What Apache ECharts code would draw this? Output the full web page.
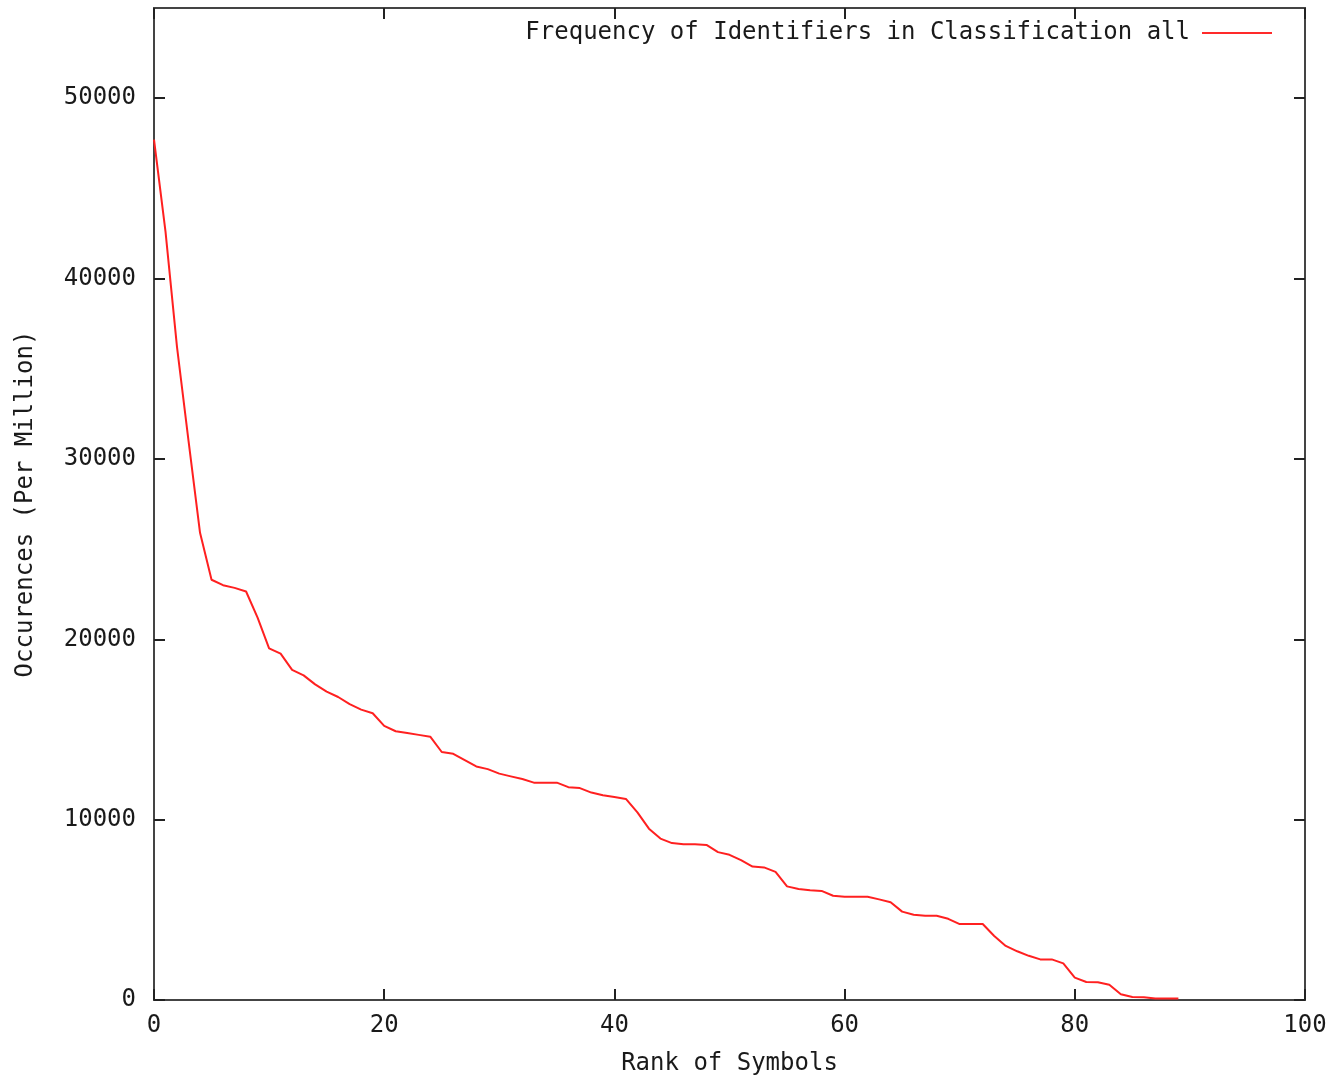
<!DOCTYPE html>
<html>
<head>
<meta charset="utf-8">
<script src="https://cdn.jsdelivr.net/npm/echarts@6/dist/echarts.min.js"></script>
<style>
html,body{margin:0;padding:0;background:#fff;}
#chart{width:1341px;height:1075px;}
</style>
</head>
<body>
<div id="chart"></div>
<script>
const seriesName = 'Frequency of Identifiers in Classification all';
const xTitle = 'Rank of Symbols';
const yTitle = 'Occurences (Per Million)';
const xTicks = [0, 20, 40, 60, 80, 100];
const yTicks = [0, 10000, 20000, 30000, 40000, 50000];
// occurrences per million, one value per rank 0,1,2,...
const occurrences = [
  47700, 42600, 36200, 31000, 25900, 23300, 23000, 22850, 22650, 21200,
  19500, 19200, 18300, 18000, 17500, 17100, 16800, 16400, 16100, 15900,
  15200, 14900, 14800, 14700, 14600, 13750, 13650, 13300, 12950, 12800,
  12550, 12400, 12250, 12050, 12050, 12050, 11800, 11750, 11500, 11350,
  11250, 11150, 10400, 9500, 8950, 8700, 8640, 8640, 8600, 8200,
  8050, 7750, 7400, 7350, 7100, 6300, 6150, 6080, 6050, 5780,
  5720, 5720, 5720, 5580, 5420, 4900, 4730, 4670, 4670, 4500,
  4210, 4210, 4210, 3550, 3000, 2700, 2450, 2250, 2250, 2030,
  1240, 1000, 980, 850, 320, 170, 150, 80, 80, 80
];

const pts = occurrences.map((v, i) => [i, v]);
const font = 'DejaVu Sans Mono';
const axisColor = '#444';
const txt = '#1a1a1a';
const tickStyle = (vals) => ({ show: true, inside: true, length: 11, interval: 0, customValues: vals,
  lineStyle: { color: '#222', width: 2 } });
const lineStyleAxis = () => ({ show: true, onZero: false, lineStyle: { color: axisColor, width: 2 } });
const tickOnlyX = (pos) => ({
  type: 'value', position: pos, min: 0, max: 100, interval: 20,
  axisLine: lineStyleAxis(), axisTick: tickStyle(xTicks),
  axisLabel: { show: false }, splitLine: { show: false }
});
const tickOnlyY = (pos) => ({
  type: 'value', position: pos, min: 0, max: 55000, interval: 10000,
  axisLine: lineStyleAxis(), axisTick: tickStyle(yTicks),
  axisLabel: { show: false }, splitLine: { show: false }
});

const chart = echarts.init(document.getElementById('chart'));
chart.setOption({
  animation: false,
  backgroundColor: '#ffffff',
  grid: { left: 154, right: 36, top: 8, bottom: 75, containLabel: false, outerBoundsMode: 'none',
          show: true, borderColor: axisColor, borderWidth: 2 },
  legend: {
    data: [{ name: seriesName, icon: 'rect' }], right: 64, top: 16, align: 'right',
    itemWidth: 70, itemHeight: 2, itemGap: 10,
    itemStyle: { color: '#ff2a2a' },
    textStyle: { fontFamily: font, fontSize: 24, color: txt, padding: [0, 7, 0, 0] }
  },
  xAxis: [{
    type: 'value', position: 'bottom', min: 0, max: 100, interval: 20,
    name: xTitle, nameLocation: 'middle', nameGap: 52,
    nameTextStyle: { fontFamily: font, fontSize: 24, color: txt },
    axisLine: lineStyleAxis(), axisTick: { show: false },
    axisLabel: { fontFamily: font, fontSize: 24, color: txt, margin: 14, customValues: xTicks,
      formatter: v => String(v) },
    splitLine: { show: false }
  }, tickOnlyX('top'), tickOnlyX('bottom')],
  yAxis: [{
    type: 'value', position: 'left', min: 0, max: 55000, interval: 10000,
    name: yTitle, nameLocation: 'middle', nameGap: 116, nameRotate: 90,
    nameTextStyle: { fontFamily: font, fontSize: 24, color: txt },
    axisLine: lineStyleAxis(), axisTick: { show: false },
    axisLabel: { fontFamily: font, fontSize: 24, color: txt, margin: 18, customValues: yTicks,
      formatter: v => String(v) },
    splitLine: { show: false }
  }, tickOnlyY('right'), tickOnlyY('left')],
  series: [{
    name: seriesName, type: 'line', xAxisIndex: 0, yAxisIndex: 0,
    data: pts, showSymbol: false, symbol: 'none', smooth: false,
    lineStyle: { color: '#ff2020', width: 2 }, itemStyle: { color: '#ff2020' }
  }]
});
</script>
</body>
</html>
